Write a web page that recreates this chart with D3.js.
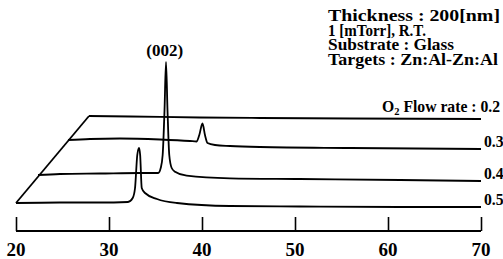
<!DOCTYPE html>
<html><head><meta charset="utf-8">
<script src="https://cdn.jsdelivr.net/npm/d3@7"></script>
<style>
html,body{margin:0;padding:0;background:#fff;overflow:hidden}
text{font-family:"Liberation Serif","Times New Roman",serif;font-weight:bold;fill:#000}
</style></head><body>
<svg id="c" width="503" height="259"></svg>
<script>
// ---- data (2θ in degrees, intensity in arbitrary units incl. stacking offset) ----
const xTicks = [20, 30, 40, 50, 60, 70];
const flowRates = ["0.2", "0.3", "0.4", "0.5"];
const infoLines = ["Thickness : 200[nm]", "1 [mTorr], R.T.", "Substrate : Glass", "Targets : Zn:Al-Zn:Al"];
const peakLabel = "(002)";
const peakLabelTheta = 36.1;

const theta02 = [27.85, 32.26, 39.78, 46.24, 55.9, 70];
const int02   = [115, 114.5, 113.5, 113, 112.5, 112];

const theta03 = [25.59, 27.96, 31.18, 35.48, 38.71, 39.43, 39.71, 40.05, 40.32, 40.59, 41.40, 43.01, 46.24, 55.91, 70];
const int03   = [91, 92, 92.5, 91.5, 90, 89.5, 96, 107.5, 96, 88, 86, 85, 84, 83, 82];

const theta04 = [22.37, 24.73, 29.03, 33.33, 34.95, 35.29, 35.56, 35.77, 35.97, 36.13, 36.29, 36.48, 36.74, 37.10, 38.35, 43.01, 50.5, 61.3, 70];
const int04   = [56, 57, 57.5, 58, 58, 58, 63, 76, 121, 169, 121, 76, 63, 59.3, 55.3, 52.7, 52, 51, 50];

const theta05 = [20.0, 24.7, 29.0, 32.04, 32.55, 32.80, 33.04, 33.23, 33.35, 33.52, 33.87, 35.16, 37.31, 43.01, 50.5, 61.3, 70];
const int05   = [28, 28.5, 28.5, 29, 33, 43, 76, 83, 76, 43, 38, 32, 28, 25, 24.5, 24, 24];

// ---- layout (not data) ----
const infoWidths = [172, 98, 126, 170];

// ---- drawing ----
const svg = d3.select("#c");
const x = d3.scaleLinear().domain([20, 70]).range([16, 481]);
const y = d3.scaleLinear().domain([0, 200]).range([231, 31]);

const series = [
  {rate: flowRates[0], t: theta02, v: int02},
  {rate: flowRates[1], t: theta03, v: int03},
  {rate: flowRates[2], t: theta04, v: int04},
  {rate: flowRates[3], t: theta05, v: int05}
];

const line = d3.line().x(d => x(d[0])).y(d => y(d[1])).curve(d3.curveMonotoneX);

series.forEach(s => {
  const pts = s.t.map((t, i) => [t, s.v[i]]);
  svg.append("path").attr("d", line(pts))
    .attr("fill", "none").attr("stroke", "#000").attr("stroke-width", 1.8)
    .attr("stroke-linejoin", "round");
});

// perspective diagonal joining the trace starts
const sBottom = series[3], sTop = series[0];
svg.append("line")
  .attr("x1", x(sBottom.t[0])).attr("y1", y(sBottom.v[0]))
  .attr("x2", x(sTop.t[0])).attr("y2", y(sTop.v[0]))
  .attr("stroke", "#000").attr("stroke-width", 1.8);

// bottom axis
const axis = d3.axisTop(x).tickValues(xTicks).tickSize(14).tickFormat("");
const ag = svg.append("g").attr("transform", `translate(0,${y(0)})`).call(axis);
ag.select(".domain").remove();
ag.selectAll(".tick line").attr("stroke", "#000").attr("stroke-width", 1.6);
svg.append("line").attr("x1", x(20)).attr("x2", x(70)).attr("y1", y(0)).attr("y2", y(0))
  .attr("stroke", "#000").attr("stroke-width", 1.8);
svg.selectAll(".xlab").data(xTicks).enter().append("text")
  .attr("x", d => x(d)).attr("y", 256).attr("text-anchor", "middle")
  .style("font-size", "19px").text(d => d);

// flow-rate labels
series.slice(1).forEach(s => {
  svg.append("text").attr("x", x(70) + 3).attr("y", y(s.v[s.v.length - 1]) - 2.5)
    .style("font-size", "15.7px").text(s.rate);
});
const fl = svg.append("text").attr("x", 382).attr("y", 112).style("font-size", "15.7px");
fl.append("tspan").text("O");
fl.append("tspan").attr("dy", 3).style("font-size", "10.5px").text("2");
fl.append("tspan").attr("dy", -3).text(" Flow rate : " + sTop.rate);

// info block
svg.selectAll(".info").data(infoLines).enter().append("text")
  .attr("x", 328).attr("y", (d, i) => 21 + i * 14.7)
  .attr("textLength", (d, i) => infoWidths[i]).attr("lengthAdjust", "spacingAndGlyphs")
  .style("font-size", "16.5px").text(d => d);

// peak label
svg.append("text").attr("x", x(peakLabelTheta) - 1).attr("y", 56).attr("text-anchor", "middle")
  .style("font-size", "17px").text(peakLabel);
</script>
</body></html>
